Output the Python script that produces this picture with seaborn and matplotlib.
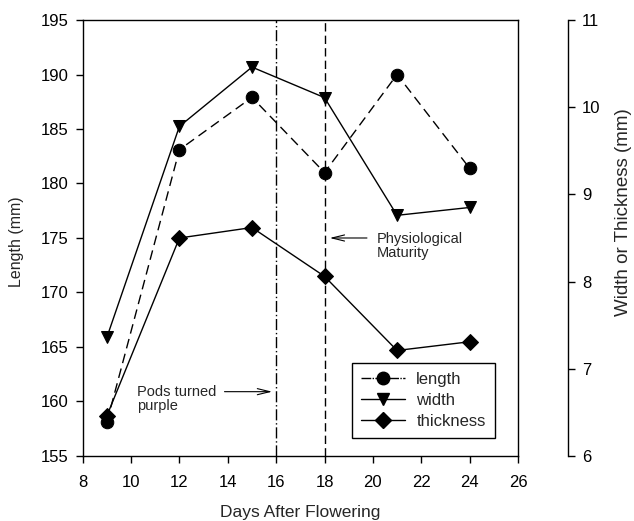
import matplotlib

matplotlib.use("Agg")
import matplotlib.pyplot as plt
import pandas as pd
import seaborn as sns
from matplotlib.lines import Line2D

days = [9, 12, 15, 18, 21, 24]
length = [158.1, 183.1, 187.9, 181.0, 190.0, 181.4]
width = [7.36, 9.78, 10.46, 10.11, 8.76, 8.85]
thickness = [6.46, 8.50, 8.62, 8.06, 7.21, 7.31]

x_ticks = [8, 10, 12, 14, 16, 18, 20, 22, 24, 26]
len_ticks = [155, 160, 165, 170, 175, 180, 185, 190, 195]
wt_ticks = [6, 7, 8, 9, 10, 11]

df = pd.DataFrame({"day": days, "length": length, "width": width, "thickness": thickness})

sns.set_style("ticks")
plt.rcParams["font.family"] = ["Liberation Sans", "DejaVu Sans"]
plt.rcParams["axes.linewidth"] = 1.0

fig = plt.figure(figsize=(6.34, 5.21), dpi=100)
ax = fig.add_axes([0.1304, 0.1248, 0.6866, 0.8368])
ax2 = ax.twinx()

sns.lineplot(data=df, x="day", y="length", ax=ax, color="black", marker="o",
             markersize=9, linewidth=1.0, linestyle=(0, (7, 4)), markeredgecolor="black")
sns.lineplot(data=df, x="day", y="width", ax=ax2, color="black", marker="v",
             markersize=9, linewidth=1.0, markeredgecolor="black")
sns.lineplot(data=df, x="day", y="thickness", ax=ax2, color="black", marker="D",
             markersize=8.5, linewidth=1.0, markeredgecolor="black")

ax.axvline(16, color="black", linewidth=1.0, linestyle=(0, (8, 2, 1, 2)))
ax.axvline(18, color="black", linewidth=1.0, linestyle=(0, (6, 3)))

ax.set_xlim(8, 26)
ax.set_ylim(155, 195)
ax2.set_ylim(6, 11)
ax.set_xticks(x_ticks)
ax.set_yticks(len_ticks)
ax2.set_yticks(wt_ticks)

ax.set_xlabel("Days After Flowering", fontsize=12.5, va="center")
ax.xaxis.set_label_coords(0.5, -0.130)
ax.set_ylabel("Length (mm)", fontsize=11.5, va="center")
ax.yaxis.set_label_coords(-0.1516, 0.491)
ax2.set_ylabel("Width or Thickness (mm)", fontsize=13.5, rotation=90, va="center")
ax2.yaxis.set_label_coords(1.242, 0.56)

ax.tick_params(axis="x", direction="out", length=5, width=1, labelsize=12, pad=9, colors="black")
ax.tick_params(axis="y", direction="out", length=5, width=1, labelsize=12, pad=5, colors="black")
ax2.tick_params(axis="y", direction="out", length=5, width=1, labelsize=12, pad=5, colors="black")

for s in ax.spines.values():
    s.set_color("black")
    s.set_visible(True)
for name in ["top", "left", "bottom"]:
    ax2.spines[name].set_visible(False)
ax2.spines["right"].set_position(("outward", 36))
ax2.spines["right"].set_color("black")

arrow = dict(arrowstyle="->,head_length=0.9,head_width=0.22", color="black", lw=0.8)
ax.annotate("", xy=(15.95, 160.9), xytext=(13.75, 160.9), arrowprops=arrow)
ax.text(10.23, 160.9 - 0.65, "Pods turned\npurple", fontsize=10.5, ha="left", va="center",
        linespacing=1.0)
ax.annotate("", xy=(18.1, 175.0), xytext=(19.87, 175.0), arrowprops=arrow)
ax.text(20.16, 175.0 - 0.75, "Physiological\nMaturity", fontsize=10.5, ha="left", va="center",
        linespacing=1.05)

handles = [
    Line2D([], [], color="black", marker="o", markersize=9, linewidth=1.0, linestyle=(0, (7, 1, 1, 1))),
    Line2D([], [], color="black", marker="v", markersize=9, linewidth=1.0),
    Line2D([], [], color="black", marker="D", markersize=8, linewidth=1.0),
]
leg = ax2.legend(handles, ["length", "width", "thickness"], loc="lower left",
                 bbox_to_anchor=(0.619, 0.041), fontsize=12, frameon=True, fancybox=False,
                 handlelength=2.6, borderpad=0.55, labelspacing=0.35, handletextpad=0.7,
                 borderaxespad=0)
leg.get_frame().set_edgecolor("black")
leg.get_frame().set_linewidth(1.0)
leg.get_frame().set_alpha(1)

fig.savefig("out.png", dpi=100, facecolor="white")
